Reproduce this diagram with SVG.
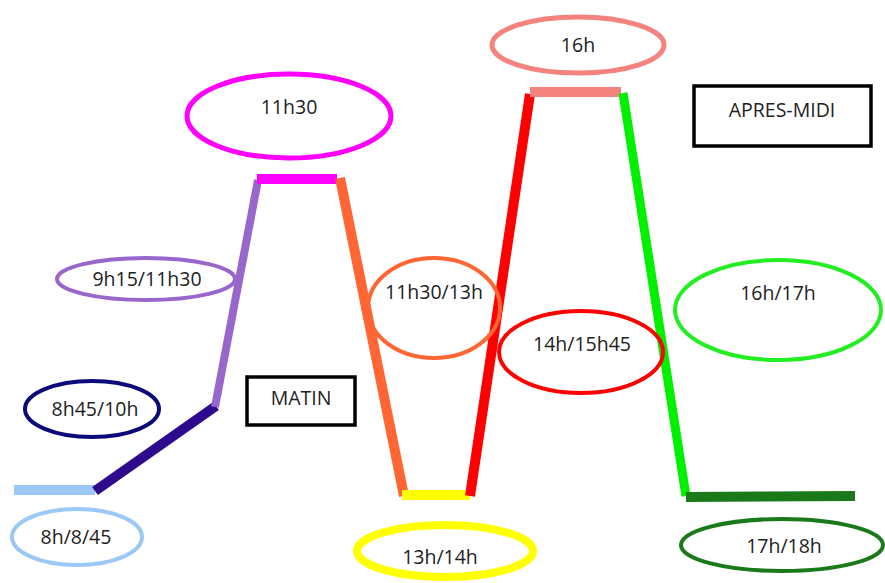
<svg xmlns="http://www.w3.org/2000/svg" width="885" height="583" viewBox="0 0 885 583">
<style>
text{font-family:"Open Sans","Liberation Sans",sans-serif;font-size:19.5px;fill:#222;text-anchor:middle}
.e{fill:none}
.box{fill:#fff;stroke:#000;stroke-width:3.5}
.seg{fill:none;stroke-linecap:butt}
</style>
<rect width="885" height="583" fill="#fff"/>
<g id="connectors">
<line class="seg" x1="14" y1="490" x2="95" y2="490" stroke="#9CC8F5" stroke-width="10"/>
<line class="seg" x1="95" y1="491" x2="216" y2="406" stroke="#2E0A8C" stroke-width="10"/>
<line class="seg" x1="215" y1="407" x2="258" y2="180" stroke="#9966CC" stroke-width="8"/>
<line class="seg" x1="257" y1="179" x2="337" y2="179" stroke="#FF00FF" stroke-width="10"/>
<line class="seg" x1="340" y1="178" x2="404" y2="496" stroke="#FF6633" stroke-width="10"/>
<line class="seg" x1="402" y1="495" x2="470" y2="495" stroke="#FFFF00" stroke-width="10"/>
<line class="seg" x1="470" y1="496" x2="530" y2="94" stroke="#FF0000" stroke-width="10"/>
<line class="seg" x1="530" y1="92" x2="621" y2="92" stroke="#F4837D" stroke-width="10"/>
<line class="seg" x1="623" y1="93" x2="686" y2="496" stroke="#00F000" stroke-width="9"/>
<line class="seg" x1="686" y1="497" x2="855" y2="496" stroke="#1A7A1A" stroke-width="10"/>
</g>
<g id="n-8h"><ellipse class="e" cx="77" cy="537" rx="65" ry="28" stroke="#9CC8F5" stroke-width="4"/><text x="76" y="544">8h/8/45</text></g>
<g id="n-8h45"><ellipse class="e" cx="92" cy="409" rx="67" ry="28" stroke="#0A0A7A" stroke-width="4"/><text x="95" y="416">8h45/10h</text></g>
<g id="n-9h15"><ellipse class="e" cx="146" cy="279" rx="89" ry="21" stroke="#9966CC" stroke-width="4"/><text x="147" y="286">9h15/11h30</text></g>
<g id="n-11h30"><ellipse class="e" cx="289" cy="116" rx="102" ry="42" stroke="#FF00FF" stroke-width="5"/><text x="289" y="114">11h30</text></g>
<g id="n-11h30-13h"><ellipse class="e" cx="434" cy="308" rx="66" ry="50" stroke="#FF6633" stroke-width="4"/><text x="434" y="299">11h30/13h</text></g>
<g id="n-14h"><ellipse class="e" cx="581" cy="352" rx="82" ry="41" stroke="#FF0000" stroke-width="4"/><text x="582" y="351">14h/15h45</text></g>
<g id="n-13h"><ellipse class="e" cx="445" cy="551" rx="88" ry="26" stroke="#FFFF00" stroke-width="8"/><text x="440" y="564">13h/14h</text></g>
<g id="n-16h"><ellipse class="e" cx="578" cy="45" rx="86" ry="28" stroke="#F4837D" stroke-width="5"/><text x="578" y="52">16h</text></g>
<g id="n-16h-17h"><ellipse class="e" cx="778" cy="310" rx="103" ry="50" stroke="#22EE22" stroke-width="4"/><text x="778" y="300">16h/17h</text></g>
<g id="n-17h"><ellipse class="e" cx="782" cy="545" rx="101" ry="26" stroke="#1A7A1A" stroke-width="4"/><text x="784" y="553">17h/18h</text></g>
<g id="matin"><rect class="box" x="247" y="377" width="108" height="48"/><text x="301" y="405">MATIN</text></g>
<g id="apres-midi"><rect class="box" x="694" y="86" width="177" height="60"/><text x="782" y="117">APRES-MIDI</text></g>
</svg>
